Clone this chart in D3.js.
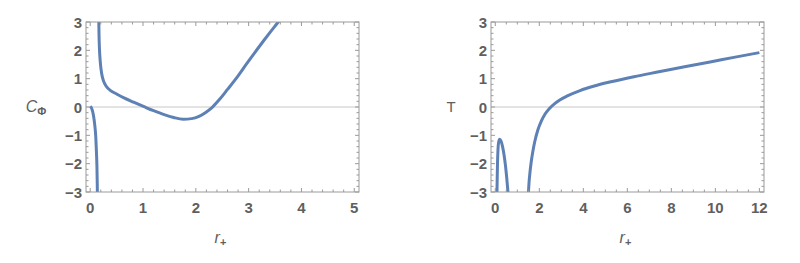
<!DOCTYPE html>
<head>
  <meta charset="utf-8">
  <script src="https://cdn.jsdelivr.net/npm/d3@7"></script>
  <style>
    body { margin: 0; background: #fff; }
    text { font-family: "Liberation Sans", Arial, sans-serif; }
  </style>
</head>
<body>
<div id="container"></div>
<script>

// values, [r+, value]
const cPhiBranch1 = [[0.0, 0.02], [0.03, -0.06], [0.06, -0.28], [0.085, -0.62], [0.105, -1.05],
  [0.118, -1.6], [0.127, -2.1], [0.133, -2.7], [0.136, -3.1]];
const cPhiBranch2 = [[0.162, 3.1], [0.166, 2.6], [0.175, 2.05], [0.19, 1.6], [0.215, 1.2],
  [0.25, 0.93], [0.3, 0.74], [0.386, 0.58], [0.5, 0.46], [0.64, 0.32], [0.82, 0.17],
  [1.02, 0.01], [1.2, -0.13], [1.4, -0.27], [1.58, -0.37], [1.76, -0.43], [1.92, -0.41],
  [2.06, -0.33], [2.18, -0.2], [2.3, -0.03], [2.45, 0.27], [2.6, 0.62], [2.8, 1.1],
  [2.96, 1.52], [3.12, 1.93], [3.28, 2.33], [3.42, 2.67], [3.56, 3.0], [3.61, 3.12]];

const tBranch1 = [[0.075, -3.1], [0.085, -2.6], [0.1, -2.0], [0.12, -1.55], [0.15, -1.25],
  [0.2, -1.14], [0.26, -1.2], [0.33, -1.4], [0.4, -1.7], [0.46, -2.05], [0.52, -2.5],
  [0.57, -2.95], [0.585, -3.1]];
const tBranch2 = [[1.5, -3.1], [1.53, -2.7], [1.57, -2.35], [1.63, -1.95], [1.71, -1.55],
  [1.8, -1.2], [1.93, -0.82], [2.09, -0.5], [2.27, -0.24], [2.47, -0.04], [2.7, 0.12],
  [2.93, 0.25], [3.3, 0.4], [3.85, 0.58], [4.5, 0.74], [5.2, 0.88], [6.3, 1.07],
  [7.49, 1.25], [8.6, 1.42], [9.76, 1.59], [10.9, 1.76], [12.0, 1.92]];

const leftXTicks = [0, 1, 2, 3, 4, 5];
const rightXTicks = [0, 2, 4, 6, 8, 10, 12];
const yTicks = [-3, -2, -1, 0, 1, 2, 3];

const width = 800, height = 263;
const lineColor = '#5e81b5';
const frameColor = '#9a9a9a';
const labelColor = '#5f5f5f';

const svg = d3.select('#container').append('svg')
  .attr('width', width)
  .attr('height', height);

function panel(cfg) {
  const x = d3.scaleLinear().domain(cfg.xDomain).range([cfg.left, cfg.right]);
  const y = d3.scaleLinear().domain([-3, 3]).range([192, 22]);
  const g = svg.append('g');

  const clipId = 'clip-' + cfg.name;
  svg.append('clipPath').attr('id', clipId)
    .append('rect')
      .attr('x', cfg.left).attr('y', 22)
      .attr('width', cfg.right - cfg.left).attr('height', 170);

  // zero axis
  g.append('line')
    .attr('x1', cfg.left).attr('x2', cfg.right)
    .attr('y1', y(0)).attr('y2', y(0))
    .style('stroke', '#c8c8c8').style('stroke-width', 1);

  // curves
  const line = d3.line()
    .x(d => x(d[0]))
    .y(d => y(d[1]))
    .curve(d3.curveMonotoneX);

  g.append('g').attr('clip-path', `url(#${clipId})`)
    .selectAll('path')
    .data(cfg.branches)
    .enter()
    .append('path')
      .attr('d', line)
      .style('fill', 'none')
      .style('stroke', lineColor)
      .style('stroke-width', 3)
      .style('stroke-linejoin', 'round');

  // frame with inward ticks on all four sides
  const majorLen = 4, minorLen = 2.5;
  const xMinor = d3.range(cfg.xTicks[0], cfg.xDomain[1], cfg.xMinorStep)
    .filter(v => v >= cfg.xDomain[0]);
  const yMinor = d3.range(-3, 3.001, 0.2);

  const tickG = g.append('g').style('stroke', frameColor).style('stroke-width', 1);
  xMinor.forEach(v => {
    const major = cfg.xTicks.some(t => Math.abs(t - v) < 1e-6);
    const len = major ? majorLen : minorLen;
    tickG.append('line').attr('x1', x(v)).attr('x2', x(v)).attr('y1', 192).attr('y2', 192 - len);
    tickG.append('line').attr('x1', x(v)).attr('x2', x(v)).attr('y1', 22).attr('y2', 22 + len);
  });
  yMinor.forEach(v => {
    const major = yTicks.some(t => Math.abs(t - v) < 1e-6);
    const len = major ? majorLen : minorLen;
    tickG.append('line').attr('x1', cfg.left).attr('x2', cfg.left + len).attr('y1', y(v)).attr('y2', y(v));
    tickG.append('line').attr('x1', cfg.right).attr('x2', cfg.right - len).attr('y1', y(v)).attr('y2', y(v));
  });

  g.append('rect')
    .attr('x', cfg.left).attr('y', 22)
    .attr('width', cfg.right - cfg.left).attr('height', 170)
    .style('fill', 'none').style('stroke', frameColor).style('stroke-width', 1);

  // tick labels
  const fmt = v => (v < 0 ? '\u2212' + Math.abs(v) : '' + v);
  g.selectAll('.ylab')
    .data(yTicks)
    .enter()
    .append('text')
      .attr('x', cfg.left - 4)
      .attr('y', d => y(d) + 5.5)
      .attr('text-anchor', 'end')
      .style('font-size', '15px')
      .style('font-weight', 'bold')
      .style('fill', labelColor)
      .text(fmt);

  g.selectAll('.xlab')
    .data(cfg.xTicks)
    .enter()
    .append('text')
      .attr('x', d => x(d))
      .attr('y', 213)
      .attr('text-anchor', 'middle')
      .style('font-size', '15px')
      .style('font-weight', 'bold')
      .style('fill', labelColor)
      .text(fmt);

  // axis titles
  const xt = g.append('text')
    .attr('x', (cfg.left + cfg.right) / 2 - 2)
    .attr('y', 243)
    .attr('text-anchor', 'middle')
    .style('fill', labelColor);
  xt.append('tspan').style('font-size', '16px').style('font-style', 'italic').text('r');
  xt.append('tspan').attr('dy', 3).style('font-size', '11px').style('font-weight', 'bold').text('+');

  const yt = g.append('text')
    .attr('x', cfg.yTitleX)
    .attr('y', 112)
    .attr('text-anchor', 'middle')
    .style('fill', labelColor);
  if (cfg.name === 'cphi') {
    yt.append('tspan').style('font-size', '16px').style('font-style', 'italic').text('C');
    yt.append('tspan').attr('dy', 3).style('font-size', '11px').style('font-weight', 'bold').text('\u03A6');
  } else {
    yt.append('tspan').style('font-size', '15px').text('T');
  }
}

panel({
  name: 'cphi',
  left: 86, right: 359,
  xDomain: [-0.08, 5.09],
  xTicks: leftXTicks,
  xMinorStep: 0.2,
  branches: [cPhiBranch1, cPhiBranch2],
  yTitleX: 36
});

panel({
  name: 'temp',
  left: 491, right: 764,
  xDomain: [-0.195, 12.21],
  xTicks: rightXTicks,
  xMinorStep: 0.5,
  branches: [tBranch1, tBranch2],
  yTitleX: 451
});

</script>
</body>
